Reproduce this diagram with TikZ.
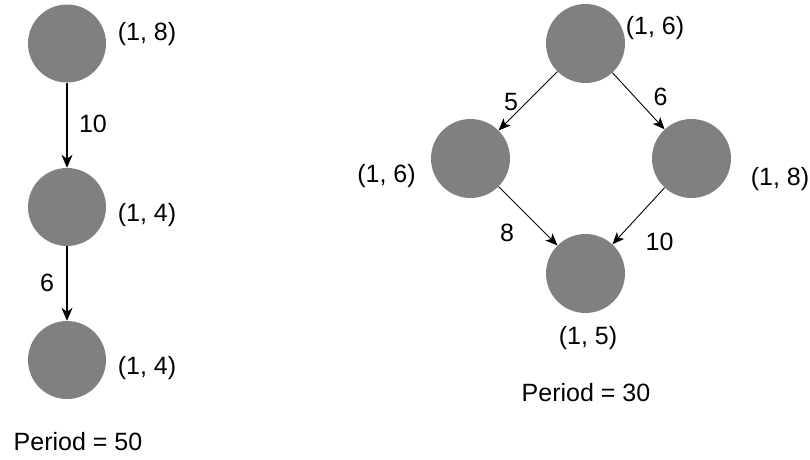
\documentclass[tikz,border=0pt]{standalone}
\usepackage{fontspec}
\setmainfont{Liberation Sans}
\usetikzlibrary{positioning, arrows.meta}
\tikzset{
  task/.style={circle, fill=black!50, minimum size=78pt, inner sep=0pt},
  tag/.style={font=\fontsize{25}{29}\selectfont, inner sep=0pt},
  arr/.style={-{Stealth[length=13pt, width=11pt, inset=4pt]}, line width=1.6pt},
  thinarr/.style={-{Stealth[length=12pt, width=10pt, inset=3pt]}, line width=0.9pt},
  lbl/.style={tag, midway}
}
\begin{document}
\begin{tikzpicture}[x=1pt, y=-1pt]
\useasboundingbox (0,0) rectangle (810,459);
% chain
\node[task] (c1) at (67,43.5) {};
\node[task] (c2) at (67,207) {};
\node[task] (c3) at (67,360) {};
\node[tag] (c1t) at (147,34) {(1, 8)};
\node[tag] (c2t) at (147,215) {(1, 4)};
\node[tag] (c3t) at (147,368) {(1, 4)};
\node[tag] (p1) at (78,442) {Period = 50};
\draw[arr] (c1) -- node[lbl, xshift=26pt, yshift=1pt] {10} (c2);
\draw[arr] (c2) -- node[lbl, xshift=-20pt, yshift=1pt] {6} (c3);
% diamond
\node[task, minimum size=79pt] (top) at (585.5,43.5) {};
\node[task, minimum size=79pt] (lft) at (470.5,158.5) {};
\node[task, minimum size=79pt] (rgt) at (691.5,158.5) {};
\node[task, minimum size=79pt] (bot) at (585.5,273.5) {};
\node[tag] (topt) at (655,28) {(1, 6)};
\node[tag] (lftt) at (386.5,176) {(1, 6)};
\node[tag] (rgtt) at (780,179) {(1, 8)};
\node[tag] (bott) at (588,338) {(1, 5)};
\node[tag] (p2) at (586,393) {Period = 30};
\draw[thinarr] (top) -- node[lbl, xshift=-17pt, yshift=-1pt] {5} (lft);
\draw[thinarr] (top) -- node[lbl, xshift=22pt, yshift=4pt] {6} (rgt);
\draw[thinarr] (lft) -- node[lbl, xshift=-21pt, yshift=-17pt] {8} (bot);
\draw[thinarr] (rgt) -- node[lbl, xshift=21pt, yshift=-26pt] {10} (bot);
\end{tikzpicture}
\end{document}
